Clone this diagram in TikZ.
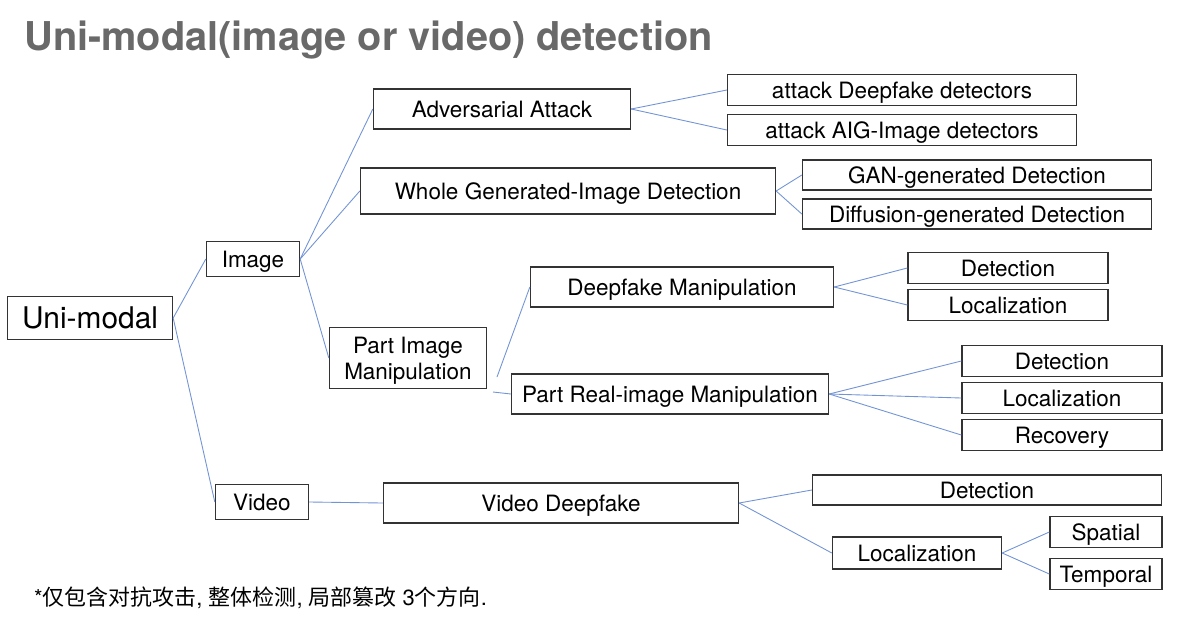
\documentclass[tikz,border=0pt]{standalone}
\usepackage{fontspec}
\setmainfont{TeX Gyre Heros}
\newfontfamily\cjkfont{Noto Sans CJK SC}
\definecolor{linkblue}{RGB}{114,147,212}
\definecolor{titlegray}{RGB}{105,105,105}

\begin{document}
\begin{tikzpicture}[x=0.02cm,y=-0.02cm]
  \tikzset{box/.style={draw=black!80,line width=0.8pt,inner sep=0pt,font=\fontsize{12.8}{15}\selectfont,align=center,text depth=0pt},
    link/.style={draw=linkblue,line width=0.5pt}}
  \useasboundingbox (0,0) rectangle (1181,640);
  \node[anchor=base west,text=titlegray,font=\fontsize{22.6}{26}\selectfont\bfseries] (title) at (18,50) {Uni-modal(image or video) detection};
  % first levels
  \node(uni)[box,minimum width=3.30cm,minimum height=0.86cm,font=\fontsize{17}{20}\selectfont] at (90,318) {Uni-modal};
  \node(img)[box,minimum width=1.86cm,minimum height=0.70cm] at (253,259) {Image};
  \node(vid)[box,minimum width=1.86cm,minimum height=0.70cm] at (262,502) {Video};
  \node(adv)[box,minimum width=5.14cm,minimum height=0.80cm] at (502,109) {Adversarial Attack};
  \node(whole)[box,minimum width=8.30cm,minimum height=0.92cm] at (568,191) {Whole Generated-Image Detection};
  \node(part)[box,minimum width=3.14cm,minimum height=1.22cm] at (408,358) {Part Image\\Manipulation};
  \node(dfm)[box,minimum width=6.06cm,minimum height=0.80cm] at (682,287) {Deepfake Manipulation};
  \node(prm)[box,minimum width=6.34cm,minimum height=0.80cm] at (670,394) {Part Real-image Manipulation};
  \node(vdf)[box,minimum width=7.10cm,minimum height=0.80cm] at (561,503) {Video Deepfake};
  % leaves
  \node(atk1)[box,minimum width=6.98cm,minimum height=0.62cm] at (902,90) {attack Deepfake detectors};
  \node(atk2)[box,minimum width=6.98cm,minimum height=0.62cm] at (902,130) {attack AIG-Image detectors};
  \node(gan)[box,minimum width=6.98cm,minimum height=0.60cm] at (977,175) {GAN-generated Detection};
  \node(diff)[box,minimum width=6.98cm,minimum height=0.60cm] at (977,214) {Diffusion-generated Detection};
  \node(dfdet)[box,minimum width=4.00cm,minimum height=0.62cm] at (1008,268) {Detection};
  \node(dfloc)[box,minimum width=4.00cm,minimum height=0.62cm] at (1008,305) {Localization};
  \node(prdet)[box,minimum width=4.00cm,minimum height=0.62cm] at (1062,361) {Detection};
  \node(prloc)[box,minimum width=4.00cm,minimum height=0.62cm] at (1062,398) {Localization};
  \node(prrec)[box,minimum width=4.00cm,minimum height=0.62cm] at (1062,435) {Recovery};
  \node(vdet)[box,minimum width=6.98cm,minimum height=0.60cm] at (987,490) {Detection};
  \node(vloc)[box,minimum width=3.38cm,minimum height=0.64cm] at (917,553) {Localization};
  \node(spa)[box,minimum width=2.24cm,minimum height=0.62cm] at (1106,532) {Spatial};
  \node(tmp)[box,minimum width=2.24cm,minimum height=0.62cm] at (1106,574) {Temporal};
  % links
  \foreach\a/\b in {uni/img,uni/vid,img/adv,img/whole,img/part,vid/vdf,adv/atk1,adv/atk2,whole/gan,whole/diff,
    dfm/dfdet,dfm/dfloc,prm/prdet,prm/prloc,prm/prrec,vdf/vdet,vdf/vloc,vloc/spa,vloc/tmp}
    {\draw[link] (\a.east) -- (\b.west);}
  \coordinate (pa) at (497,377);
  \coordinate (pb) at (493,392);
  \draw[link] (pa) -- (dfm.west);
  \draw[link] (pb) -- (prm.west);
  \node(note)[anchor=west,font=\fontsize{12.5}{15}\selectfont] at (28,598) {*{\cjkfont 仅包含对抗攻击}, {\cjkfont 整体检测}, {\cjkfont 局部篡改} 3{\cjkfont 个方向}.};
\end{tikzpicture}
\end{document}
